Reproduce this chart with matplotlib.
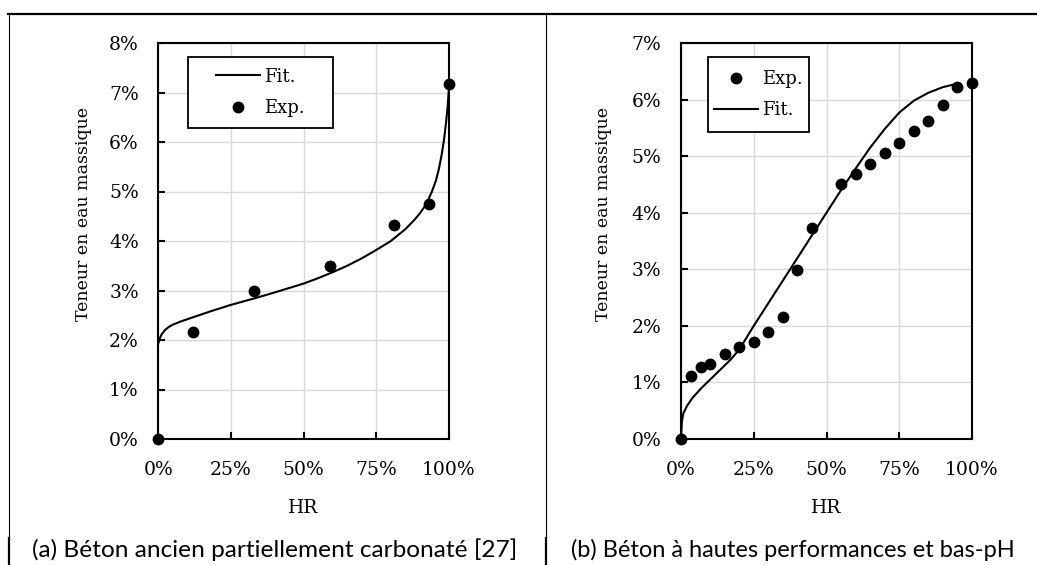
import matplotlib
matplotlib.use('Agg')
import matplotlib.pyplot as plt
from matplotlib.patches import Rectangle
from matplotlib.lines import Line2D
from matplotlib.ticker import FuncFormatter

# (a) old partially carbonated concrete
hr_exp_a = [0, 12, 33, 59, 81, 93, 100]
w_exp_a = [0, 2.17, 2.98, 3.49, 4.33, 4.75, 7.17]
hr_fit_a = [0, 0.3, 0.7, 1.2, 2.3, 3.5, 5, 8, 12, 18, 25, 33, 40, 50, 55, 60, 65, 70, 75, 80,
            85, 88, 90, 92, 94, 95.5, 96.5, 97.5, 98.3, 99, 99.5, 100]
w_fit_a = [1.93, 2.00, 2.06, 2.12, 2.20, 2.26, 2.31, 2.38, 2.46, 2.58, 2.71, 2.84, 2.96, 3.14,
           3.25, 3.37, 3.50, 3.65, 3.82, 4.00, 4.24, 4.42, 4.56, 4.73, 4.98, 5.22, 5.45, 5.75,
           6.05, 6.40, 6.70, 7.10]

# (b) high performance low-pH concrete
hr_exp_b = [0, 3.5, 7, 10, 15, 20, 25, 30, 35, 40, 45, 55, 60, 65, 70, 75, 80, 85, 90, 95, 100]
w_exp_b = [0, 1.11, 1.27, 1.32, 1.51, 1.63, 1.72, 1.89, 2.16, 2.98, 3.73, 4.51, 4.68, 4.86, 5.06,
           5.23, 5.44, 5.62, 5.90, 6.22, 6.29]
hr_fit_b = [0, 0.3, 0.8, 2, 4, 7, 10, 13, 17, 20, 25, 30, 35, 40, 45, 50, 55, 60, 65, 70, 75, 80,
            85, 90, 94]
w_fit_b = [0, 0.30, 0.45, 0.58, 0.73, 0.90, 1.05, 1.20, 1.40, 1.58, 2.00, 2.40, 2.80, 3.20, 3.60,
           4.00, 4.40, 4.78, 5.15, 5.48, 5.77, 5.98, 6.12, 6.22, 6.27]

captions = ['(a) Béton ancien partiellement carbonaté [27]',
            '(b) Béton à hautes performances et bas-pH']
ylabel = 'Teneur en eau massique'
xlabel = 'HR'

W, H = 1037, 565
fig = plt.figure(figsize=(W / 100.0, H / 100.0), dpi=100)
serif = ['DejaVu Serif']
fs_tick = 13.5
fs_lab = 12.5
fs_leg = 13

pct = FuncFormatter(lambda v, p: '%d%%' % round(v))


def px(x0, y0, w, h):
    # pixel box (from top left) -> figure fraction
    return [x0 / W, 1 - (y0 + h) / H, w / W, h / H]


def panel(rect, ymax, fit_x, fit_y, exp_x, exp_y, order, legbox, ylab_x):
    ax = fig.add_axes(px(*rect))
    ax.set_xlim(0, 100)
    ax.set_ylim(0, ymax)
    ax.set_xticks(range(0, 101, 25))
    ax.set_yticks(range(0, ymax + 1))
    ax.xaxis.set_major_formatter(pct)
    ax.yaxis.set_major_formatter(pct)
    ax.grid(True, color='#d9d9d9', lw=1.0)
    ax.set_axisbelow(True)
    for s in ax.spines.values():
        s.set_linewidth(1.5)
        s.set_color('black')
    ax.tick_params(direction='in', length=5, width=1.5, colors='black')
    ax.tick_params(axis='y', pad=14)
    ax.tick_params(axis='x', pad=16)
    for lab in ax.get_xticklabels() + ax.get_yticklabels():
        lab.set_family(serif)
        lab.set_fontsize(fs_tick)
    fit, = ax.plot(fit_x, fit_y, '-', color='black', lw=1.5, zorder=3)
    exp, = ax.plot(exp_x, exp_y, 'o', color='black', ms=7.5, ls='none', zorder=4, clip_on=False)
    handles = {'Fit.': fit, 'Exp.': exp}
    bx0, by0, bx1, by1 = legbox
    ax.add_patch(Rectangle((bx0, by0), bx1 - bx0, by1 - by0, transform=ax.transAxes,
                           facecolor='white', edgecolor='black', lw=1.3, zorder=6))
    leg = ax.legend([handles[k] for k in order], order, loc='center', frameon=False,
                    bbox_to_anchor=((bx0 + bx1) / 2, (by0 + by1) / 2), handlelength=2.4,
                    handletextpad=0.25, labelspacing=0.75, prop={'family': serif, 'size': fs_leg})
    leg.set_zorder(7)
    # axis titles
    x0, y0, w, h = rect
    fig.text(ylab_x / W, 1 - 214 / H, ylabel, rotation=90, ha='center',
             va='center', family=serif, fontsize=fs_lab)
    fig.text((x0 + w / 2) / W, 1 - 508 / H, xlabel, ha='center', va='center',
             family=serif, fontsize=13.5)
    return ax


panel((158.3, 43, 290.7, 396), 8, hr_fit_a, w_fit_a, hr_exp_a, w_exp_a, ['Fit.', 'Exp.'],
      (0.102, 0.785, 0.601, 0.965), 84)
panel((681, 43, 291, 396), 7, hr_fit_b, w_fit_b, hr_exp_b, w_exp_b, ['Exp.', 'Fit.'],
      (0.094, 0.774, 0.439, 0.965), 603)

# table borders
def hline(y, x0, x1, lw):
    fig.add_artist(Line2D([x0 / W, x1 / W], [1 - y / H, 1 - y / H], color='black', lw=lw,
                          transform=fig.transFigure))


def vline(x, y0, y1, lw):
    fig.add_artist(Line2D([x / W, x / W], [1 - y0 / H, 1 - y1 / H], color='black', lw=lw,
                          transform=fig.transFigure))


hline(13.5, 8, W, 1.6)
for xv in (8.5, 546):
    vline(xv, 13, 538, 0.8)
    vline(xv, 538, H, 1.6)

fig.text(32 / W, 1 - 550 / H, captions[0], ha='left', va='center', family='Lato', fontsize=17.6)
fig.text(571 / W, 1 - 550 / H, captions[1], ha='left', va='center', family='Lato', fontsize=17.0)

plt.savefig('out.png', dpi=100)
